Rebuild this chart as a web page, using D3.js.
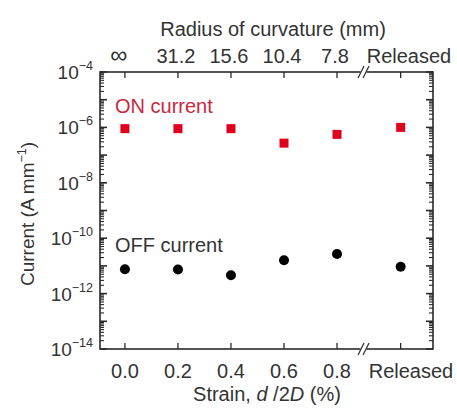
<!DOCTYPE html>
<html><head><meta charset="utf-8">
<script src="https://cdn.jsdelivr.net/npm/d3@7"></script>
<style>body{margin:0;background:#fff}svg{display:block}text{font-family:"Liberation Sans",Arial,sans-serif;fill:#333}</style>
</head><body><svg id="c" width="457" height="408"></svg>
<script>
const categories = ["0.0","0.2","0.4","0.6","0.8","Released"];
const strainPos = [0, 0.2, 0.4, 0.6, 0.8, 1.04];
const radiusLabels = ["\u221E","31.2","15.6","10.4","7.8","Released"];
const onCurrent = [9e-7, 9e-7, 9e-7, 2.7e-7, 5.6e-7, 1e-6];
const offCurrent = [7.6e-12, 7.4e-12, 4.6e-12, 1.6e-11, 2.7e-11, 9.3e-12];
const yExponents = [-4,-6,-8,-10,-12,-14];
const breakPos = 0.9;

const svg = d3.select("#c");
const L=100,R=433,T=72,B=349;
const x = d3.scaleLinear().domain([-0.094,1.162]).range([L,R]);
const y = d3.scaleLog().domain([1e-14,1e-4]).range([B,T]);
const ink="#2a2a2a";
const FS=20;

const majors=d3.range(-14,-3).map(e=>Math.pow(10,e));
const minors=[];
for(let e=-14;e<-4;e++) for(let m=2;m<10;m++) minors.push(m*Math.pow(10,e));
const g=svg.append("g");
[[L,1],[R,-1]].forEach(([xx,dir])=>{
  g.selectAll(null).data(majors).enter().append("line")
   .attr("x1",xx).attr("x2",xx+dir*7).attr("y1",d=>y(d)).attr("y2",d=>y(d))
   .attr("stroke",ink).attr("stroke-width",1.6);
  g.selectAll(null).data(minors).enter().append("line")
   .attr("x1",xx).attr("x2",xx+dir*4).attr("y1",d=>y(d)).attr("y2",d=>y(d))
   .attr("stroke",ink).attr("stroke-width",1.1);
});
[[B,-1],[T,1]].forEach(([yy,dir])=>{
  g.selectAll(null).data(strainPos).enter().append("line")
   .attr("x1",d=>x(d)).attr("x2",d=>x(d)).attr("y1",yy).attr("y2",yy+dir*6)
   .attr("stroke",ink).attr("stroke-width",1.3);
});
g.append("rect").attr("x",L).attr("y",T).attr("width",R-L).attr("height",B-T)
 .attr("fill","none").attr("stroke",ink).attr("stroke-width",1.6);
[T,B].forEach(yy=>{
  const bx=x(breakPos);
  g.append("rect").attr("x",bx-3).attr("y",yy-2).attr("width",6).attr("height",4).attr("fill","#fff");
  [-2.5,2.5].forEach(o=>{
    g.append("line").attr("x1",bx+o-3).attr("x2",bx+o+3).attr("y1",yy+6).attr("y2",yy-6)
     .attr("stroke",ink).attr("stroke-width",1.2);
  });
});
yExponents.forEach(e=>{
  const t=svg.append("text").attr("x",93).attr("y",y(Math.pow(10,e))+7)
   .attr("text-anchor","end").attr("font-size",19);
  t.append("tspan").text("10");
  t.append("tspan").attr("dy",-9).attr("font-size",12.5).text("\u2212"+Math.abs(e));
});
svg.selectAll(null).data(categories).enter().append("text")
 .attr("x",(d,i)=>i===5?411:x(strainPos[i])).attr("y",378).attr("text-anchor","middle")
 .attr("font-size",FS).text(d=>d);
svg.selectAll(null).data(radiusLabels).enter().append("text")
 .attr("x",(d,i)=>i===5?409:x(strainPos[i])-(i===0?6:2)).attr("y",63).attr("text-anchor","middle")
 .attr("font-size",(d,i)=>i===0?24:FS).text(d=>d);
svg.append("text").attr("x",273).attr("y",36).attr("text-anchor","middle").attr("font-size",FS)
 .text("Radius of curvature (mm)");
const xt=svg.append("text").attr("x",267).attr("y",401).attr("text-anchor","middle").attr("font-size",FS);
xt.append("tspan").text("Strain, ");
xt.append("tspan").attr("font-style","italic").text("d");
xt.append("tspan").text(" /2");
xt.append("tspan").attr("font-style","italic").text("D");
xt.append("tspan").text(" (%)");
const yt=svg.append("text").attr("transform","translate(34,214) rotate(-90)").attr("text-anchor","middle").attr("font-size",19);
yt.append("tspan").text("Current (A mm");
yt.append("tspan").attr("dy",-8).attr("font-size",12.5).text("\u22121");
yt.append("tspan").attr("dy",8).text(")");
svg.append("text").attr("x",115).attr("y",113).attr("font-size",FS).style("fill","#c9283d").text("ON current");
svg.append("text").attr("x",115).attr("y",252).attr("font-size",FS).text("OFF current");
svg.selectAll(null).data(onCurrent).enter().append("rect")
 .attr("x",(d,i)=>x(strainPos[i])-4.5).attr("y",d=>y(d)-4.5).attr("width",9).attr("height",9)
 .attr("fill","#e0001b");
svg.selectAll(null).data(offCurrent).enter().append("circle")
 .attr("cx",(d,i)=>x(strainPos[i])).attr("cy",d=>y(d)).attr("r",5).attr("fill","#000");
</script></body></html>
